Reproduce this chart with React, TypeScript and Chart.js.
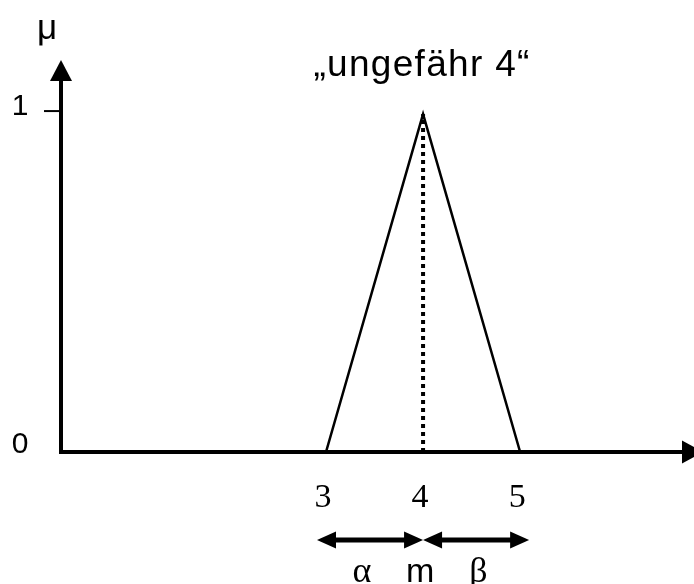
import { useEffect, useRef } from "react";
import { Chart, registerables } from "chart.js";

Chart.register(...registerables);

// Data
const xValues = [3, 4, 5];
const muValues = [0, 1, 0];
const peakX = 4;
const xTickLabels = ["3", "4", "5"];
const xTickValues = [3, 4, 5];
const yTickValues = [0, 1];
const yTickLabels = ["0", "1"];
const spanRanges = [
  [3, 4],
  [4, 5],
];
const spanLabels = ["α", "m", "β"];
const spanLabelPos = [3.4, 4, 4.6];
const titleText = "„ungefähr 4“";
const yAxisTitle = "μ";

const SANS = '"Liberation Sans", Arial, sans-serif';
const SERIF = '"Liberation Serif", "Times New Roman", serif';

function arrowHead(ctx: CanvasRenderingContext2D, tipX: number, tipY: number, dirX: number, dirY: number, len: number, half: number) {
  const bx = tipX - dirX * len;
  const by = tipY - dirY * len;
  const px = -dirY;
  const py = dirX;
  ctx.beginPath();
  ctx.moveTo(tipX, tipY);
  ctx.lineTo(bx + px * half, by + py * half);
  ctx.lineTo(bx - px * half, by - py * half);
  ctx.closePath();
  ctx.fill();
}

const decorPlugin = {
  id: "decor",
  afterDatasetsDraw(chart: any) {
    const ctx: CanvasRenderingContext2D = chart.ctx;
    const xs = chart.scales.x;
    const ys = chart.scales.y;
    const ox = xs.getPixelForValue(xs.min);
    const oy = ys.getPixelForValue(0);
    const topY = ys.getPixelForValue(ys.max);
    ctx.save();
    ctx.strokeStyle = "#000";
    ctx.fillStyle = "#000";
    ctx.lineCap = "butt";

    // y axis
    ctx.lineWidth = 4;
    ctx.beginPath();
    ctx.moveTo(ox, oy + 2);
    ctx.lineTo(ox, topY + 18);
    ctx.stroke();
    arrowHead(ctx, ox, topY, 0, -1, 21, 11);

    // x axis
    ctx.beginPath();
    ctx.moveTo(ox - 2, oy);
    ctx.lineTo(chart.width - 8, oy);
    ctx.stroke();
    arrowHead(ctx, chart.width + 9, oy, 1, 0, 21, 11.5);

    // y ticks + labels
    ctx.font = `30px ${SANS}`;
    ctx.textAlign = "center";
    ctx.textBaseline = "middle";
    yTickValues.forEach((v, i) => {
      const py = ys.getPixelForValue(v);
      if (v !== 0) {
        ctx.lineWidth = 2;
        ctx.beginPath();
        ctx.moveTo(ox - 17, py - 3);
        ctx.lineTo(ox, py - 3);
        ctx.stroke();
      }
      ctx.fillText(yTickLabels[i], ox - 41, py - 7);
    });

    // y axis title
    ctx.font = `35px ${SANS}`;
    ctx.textBaseline = "alphabetic";
    ctx.fillText(yAxisTitle, ox - 14, 39);

    // x tick labels
    ctx.font = `34px ${SERIF}`;
    ctx.textBaseline = "middle";
    xTickValues.forEach((v, i) => {
      ctx.fillText(xTickLabels[i], xs.getPixelForValue(v) - 3, oy + 46);
    });

    // span arrows
    const ay = oy + 88;
    ctx.lineWidth = 5;
    spanRanges.forEach(([a, b], i) => {
      let x1 = xs.getPixelForValue(a);
      let x2 = xs.getPixelForValue(b);
      if (i === 0) x1 -= 9;
      if (i === spanRanges.length - 1) x2 += 9;
      ctx.beginPath();
      ctx.moveTo(x1 + 10, ay);
      ctx.lineTo(x2 - 10, ay);
      ctx.stroke();
      arrowHead(ctx, x1, ay, -1, 0, 19, 8.5);
      arrowHead(ctx, x2, ay, 1, 0, 19, 8.5);
    });

    // span labels
    ctx.textBaseline = "alphabetic";
    spanLabels.forEach((t, i) => {
      ctx.font = t === "m" ? `34px ${SANS}` : `36px ${SERIF}`;
      ctx.fillText(t, xs.getPixelForValue(spanLabelPos[i]) - 3, oy + 130);
    });

    // title
    ctx.font = `37px ${SANS}`;
    (ctx as any).letterSpacing = "1.3px";
    ctx.fillText(titleText, xs.getPixelForValue(peakX) - 1, 76);
    (ctx as any).letterSpacing = "0px";

    ctx.restore();
  },
};

export default function App() {
  const ref = useRef<HTMLCanvasElement>(null);
  useEffect(() => {
    if (!ref.current) return;
    const chart = new Chart(ref.current, {
      type: "scatter",
      data: {
        datasets: [
          {
            data: xValues.map((x, i) => ({ x, y: muValues[i] })),
            showLine: true,
            borderColor: "#000",
            borderWidth: 2.5,
            pointRadius: 0,
            tension: 0,
          },
          {
            data: [
              { x: peakX, y: 0 },
              { x: peakX, y: muValues[1] },
            ],
            showLine: true,
            borderColor: "#000",
            borderWidth: 4,
            borderDash: [4, 4],
            borderCapStyle: "butt",
            pointRadius: 0,
          },
        ],
      },
      options: {
        responsive: false,
        animation: false,
        events: [],
        layout: { padding: { left: 61, right: 4, top: 60, bottom: 132 } },
        scales: {
          x: { type: "linear", min: 0.27, max: 6.75, display: false },
          y: { type: "linear", min: 0, max: 1.16, display: false },
        },
        plugins: { legend: { display: false }, tooltip: { enabled: false } },
      },
      plugins: [decorPlugin],
    } as any);
    return () => chart.destroy();
  }, []);
  return (
    <div style={{ position: "fixed", left: 0, top: 0, width: 694, height: 584, background: "#fff" }}>
      <canvas ref={ref} width={694} height={584} />
    </div>
  );
}
